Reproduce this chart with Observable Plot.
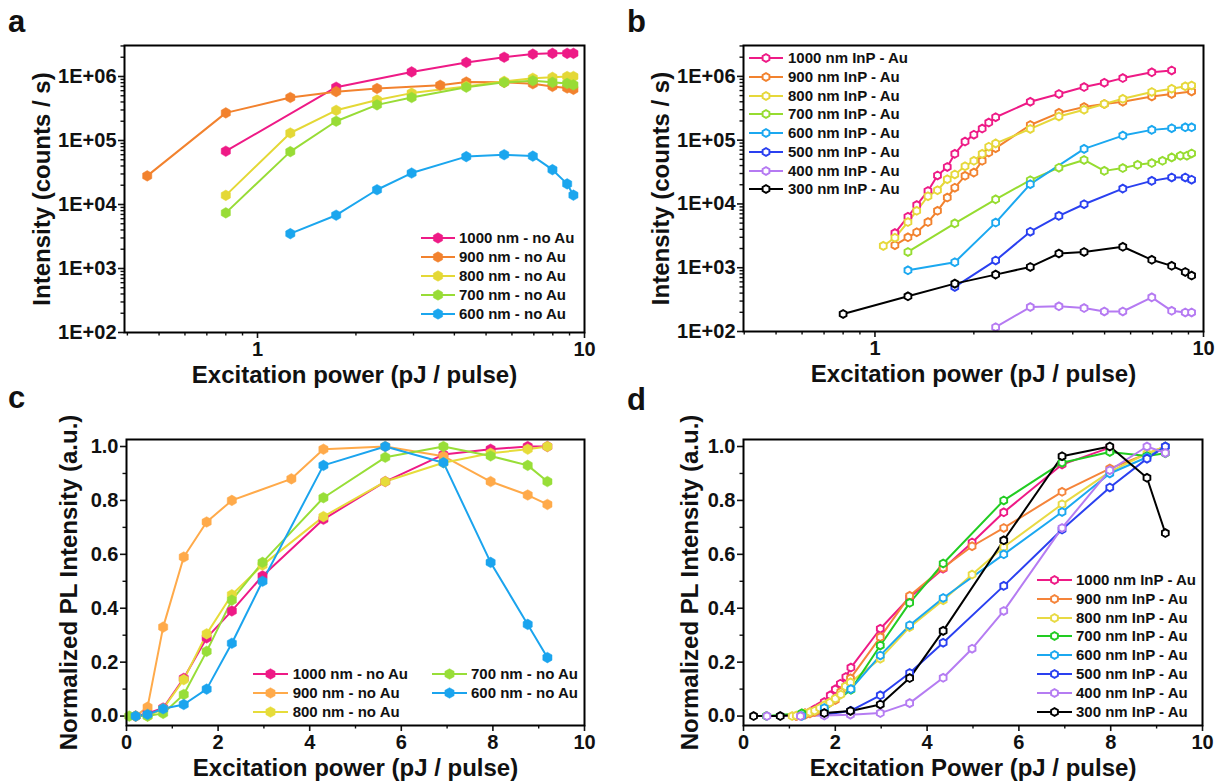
<!DOCTYPE html>
<html><head><meta charset="utf-8">
<script src="https://cdn.jsdelivr.net/npm/d3@7"></script>
<script src="https://cdn.jsdelivr.net/npm/@observablehq/plot@0.6"></script>
<style>
body{margin:0;background:#fff;font-family:"Liberation Sans",Arial,sans-serif;}
#fig{position:relative;width:1215px;height:782px;overflow:hidden;background:#fff;}
.panel{position:absolute;}
.tag{position:absolute;font-weight:bold;font-size:31px;line-height:31px;color:#111;}
.lg{position:absolute;font-weight:bold;font-size:15px;line-height:16px;color:#111;white-space:nowrap;}
.sw{position:absolute;overflow:visible;}
</style></head><body><div id="fig"></div>
<script>
// ---------- Panel a: no Au, log-log ----------
const aNames = ["1000 nm - no Au","900 nm - no Au","800 nm - no Au","700 nm - no Au","600 nm - no Au"];
const aColors = ["#EE1A86","#F2822E","#E4D836","#98DC36","#1BA6EE"];
const a1000x = [0.8,1.74,2.96,4.35,5.68,6.95,7.98,8.85,9.25];
const a1000y = [6.8e4,6.8e5,1.18e6,1.66e6,2.0e6,2.24e6,2.3e6,2.3e6,2.3e6];
const a900x = [0.46,0.8,1.26,1.74,2.32,3.62,4.35,5.68,6.95,7.98,8.85,9.25];
const a900y = [2.8e4,2.7e5,4.7e5,5.8e5,6.5e5,7.3e5,8.2e5,8.1e5,7.7e5,7.0e5,6.6e5,6.3e5];
const a800x = [0.8,1.26,1.74,2.32,2.96,4.35,5.68,6.95,7.98,8.85,9.25];
const a800y = [1.39e4,1.31e5,2.96e5,4.3e5,5.5e5,7.0e5,8.4e5,9.4e5,9.7e5,1.0e6,1.0e6];
const a700x = [0.8,1.26,1.74,2.32,2.96,4.35,5.68,6.95,7.98,8.85,9.25];
const a700y = [7.4e3,6.7e4,2.0e5,3.6e5,4.7e5,6.8e5,8.1e5,8.6e5,8.1e5,7.8e5,7.4e5];
const a600x = [1.26,1.74,2.32,2.96,4.35,5.68,6.95,7.98,8.85,9.25];
const a600y = [3.5e3,6.8e3,1.7e4,3.1e4,5.6e4,6.0e4,5.7e4,3.5e4,2.1e4,1.4e4];

// ---------- Panel b: InP - Au, log-log ----------
const bNames = ["1000 nm InP - Au","900 nm InP - Au","800 nm InP - Au","700 nm InP - Au","600 nm InP - Au","500 nm InP - Au","400 nm InP - Au","300 nm InP - Au"];
const bColors = ["#EE1A86","#F2822E","#E6D83A","#96DC30","#1BA8F0","#2A40F0","#B57AF2","#000000"];
const b1000x = [1.15,1.26,1.34,1.45,1.55,1.66,1.75,1.88,2.0,2.12,2.22,2.33,2.97,3.63,4.33,4.99,5.68,6.96,8.0];
const b1000y = [3.5e3,6.3e3,9.6e3,1.6e4,2.8e4,3.8e4,6.1e4,9.5e4,1.22e5,1.52e5,1.89e5,2.29e5,4.0e5,5.3e5,6.8e5,7.95e5,9.4e5,1.16e6,1.24e6];
const b900x = [1.15,1.26,1.34,1.45,1.55,1.66,1.75,1.88,2.0,2.12,2.22,2.33,2.97,3.63,4.33,4.99,5.68,6.96,8.0,9.2];
const b900y = [2.26e3,3.0e3,3.6e3,5.2e3,7.8e3,1.26e4,1.8e4,2.76e4,3.1e4,4.75e4,6.4e4,7.5e4,1.73e5,2.68e5,3.3e5,3.7e5,4.0e5,4.84e5,5.3e5,5.8e5];
const b800x = [1.06,1.15,1.26,1.34,1.45,1.55,1.66,1.75,1.88,2.0,2.12,2.22,2.33,2.97,3.63,4.33,4.99,5.68,6.96,8.0,8.8,9.2];
const b800y = [2.2e3,2.95e3,5.2e3,7.8e3,1.32e4,1.64e4,2.44e4,2.9e4,3.9e4,4.75e4,6.1e4,7.9e4,8.9e4,1.5e5,2.35e5,3.0e5,3.7e5,4.45e5,5.7e5,6.4e5,7.0e5,7.2e5];
const b700x = [1.26,1.75,2.33,2.97,3.63,4.33,4.99,5.68,6.3,6.96,7.5,8.0,8.5,8.9,9.2];
const b700y = [1.77e3,4.96e3,1.18e4,2.36e4,3.7e4,4.9e4,3.3e4,3.65e4,4.1e4,4.37e4,4.75e4,5.37e4,5.7e4,5.7e4,6.2e4];
const b600x = [1.26,1.75,2.33,2.97,4.33,5.68,6.96,8.0,8.8,9.2];
const b600y = [910,1220,5100,2.04e4,7.3e4,1.18e5,1.45e5,1.54e5,1.59e5,1.59e5];
const b500x = [1.75,2.33,2.97,3.63,4.33,5.68,6.96,8.0,8.8,9.2];
const b500y = [500,1300,3670,6500,9900,1.74e4,2.3e4,2.6e4,2.6e4,2.4e4];
const b400x = [2.33,2.97,3.63,4.33,4.99,5.68,6.96,8.0,8.8,9.2];
const b400y = [117,242,248,233,206,206,343,211,199,199];
const b300x = [0.8,1.26,1.75,2.33,2.97,3.63,4.33,5.68,6.96,8.0,8.8,9.2];
const b300y = [188,356,563,780,1030,1670,1770,2130,1330,1070,860,753];

// ---------- Panel c: no Au, normalized ----------
const cNames = ["1000 nm - no Au","900 nm - no Au","800 nm - no Au","700 nm - no Au","600 nm - no Au"];
const cColors = ["#EE1A86","#FFAA4A","#E6DC3A","#98DE38","#1BA4EE"];
const c1000x = [0.2,0.46,0.8,1.25,1.75,2.3,2.97,4.3,5.65,6.92,7.95,8.76,9.19];
const c1000y = [0,0.01,0.03,0.14,0.29,0.39,0.52,0.73,0.87,0.97,0.99,1.0,1.0];
const c900x = [0.2,0.46,0.8,1.25,1.75,2.3,3.6,4.3,5.65,6.92,7.95,8.76,9.19];
const c900y = [0,0.033,0.33,0.59,0.72,0.80,0.88,0.99,1.0,0.964,0.87,0.82,0.785];
const c800x = [0.2,0.46,0.8,1.25,1.75,2.3,2.97,4.3,5.65,6.92,7.95,8.76,9.19];
const c800y = [0,0,0.027,0.135,0.305,0.45,0.56,0.74,0.87,0.94,0.975,0.99,1.0];
const c700x = [0.06,0.46,0.8,1.25,1.75,2.3,2.97,4.3,5.65,6.92,7.95,8.76,9.19];
const c700y = [0,0,0.01,0.08,0.24,0.43,0.57,0.81,0.96,1.0,0.965,0.93,0.87];
const c600x = [0.2,0.46,0.8,1.25,1.75,2.3,2.97,4.3,5.65,6.92,7.95,8.76,9.19];
const c600y = [0,0.006,0.027,0.043,0.10,0.27,0.50,0.93,1.0,0.94,0.57,0.34,0.217];

// ---------- Panel d: InP - Au, normalized ----------
const dNames = bNames;
const dColors = ["#EE1A86","#F5843A","#E8DA44","#22CC22","#1BA8F0","#2A40F0","#B57CF2","#000000"];
const d1000x = [1.15,1.26,1.34,1.45,1.55,1.66,1.76,1.89,2.0,2.11,2.23,2.34,2.98,3.62,4.35,4.98,5.67,6.94,7.98];
const d1000y = [0,0.005,0.01,0.015,0.025,0.035,0.052,0.077,0.099,0.12,0.145,0.18,0.324,0.44,0.547,0.644,0.756,0.933,0.996];
const d900x = [1.15,1.26,1.34,1.45,1.55,1.66,1.76,1.88,2.0,2.12,2.22,2.33,2.98,3.62,4.35,4.98,5.67,6.94,7.98,9.19];
const d900y = [0,0.002,0.005,0.01,0.015,0.025,0.035,0.05,0.06,0.09,0.11,0.14,0.293,0.446,0.55,0.63,0.698,0.832,0.918,1.0];
const d800x = [1.06,1.15,1.26,1.34,1.45,1.55,1.66,1.76,1.88,2.0,2.12,2.22,2.33,2.98,3.62,4.35,4.98,5.67,6.94,7.98,8.79,9.19];
const d800y = [0,0.002,0.005,0.01,0.015,0.02,0.03,0.04,0.05,0.065,0.08,0.11,0.125,0.213,0.33,0.43,0.525,0.627,0.786,0.906,0.974,1.0];
const d700x = [0.5,1.27,1.76,2.34,2.98,3.62,4.35,5.67,6.94,7.98,8.79,9.19];
const d700y = [0,0.01,0.02,0.098,0.262,0.42,0.566,0.80,0.94,0.98,0.965,0.975];
const d600x = [1.27,1.76,2.34,2.98,3.62,4.35,5.67,6.94,7.98,8.79,9.19];
const d600y = [0,0.03,0.10,0.225,0.337,0.438,0.60,0.757,0.90,0.96,1.0];
const d500x = [1.76,2.34,2.98,3.62,4.35,5.67,6.94,7.98,8.79,9.19];
const d500y = [0.005,0.02,0.077,0.16,0.272,0.483,0.692,0.848,0.955,1.0];
const d400x = [0.51,1.24,1.76,2.33,2.98,3.62,4.35,4.98,5.67,6.94,7.98,8.79,9.19];
const d400y = [0,0,0.002,0.005,0.011,0.048,0.142,0.25,0.39,0.698,0.912,1.0,0.976];
const d300x = [0.22,0.8,1.76,2.33,2.98,3.62,4.35,5.67,6.94,7.98,8.79,9.19];
const d300y = [0,0,0.011,0.019,0.043,0.141,0.316,0.652,0.964,1.0,0.884,0.679];

// ---------- ticks ----------
const logXMajor = [1, 10];
const logXMinor = [0.4,0.5,0.6,0.7,0.8,0.9,2,3,4,5,6,7,8,9];
const logYMajor = [1e2,1e3,1e4,1e5,1e6];
const logYMinor = [2,3,4,5,6].flatMap(e => [2,3,4,5,6,7,8,9].map(m => m*Math.pow(10,e))).filter(v => v < 3.05e6);
const linXMajor = [0,2,4,6,8,10];
const linXMinor = [1,3,5,7,9];
const linYMajor = [0,0.2,0.4,0.6,0.8,1.0];
const linYMinor = [0.1,0.3,0.5,0.7,0.9];

const fig = document.getElementById("fig");

function rows(names, xs, ys) {
  return names.flatMap((n, k) => xs[k].map((x, i) => ({x, y: ys[k][i], name: n})));
}

function makePanel(cfg) {
  const data = rows(cfg.names, cfg.xs, cfg.ys);
  const marks = [
    Plot.axisX({ticks: cfg.xMajor, tickSize: 6, tickPadding: 3, tickFormat: cfg.xFmt, strokeWidth: 1.6, label: null}),
    Plot.axisX({ticks: cfg.xMinor, tickSize: 3.5, tickFormat: () => "", strokeWidth: 1.4, label: null}),
    Plot.axisY({ticks: cfg.yMajor, tickSize: 6, tickPadding: 2, tickFormat: cfg.yFmt, strokeWidth: 1.6, label: null}),
    Plot.axisY({ticks: cfg.yMinor, tickSize: 3.5, tickFormat: () => "", strokeWidth: 1.4, label: null}),
    Plot.line(data, {x: "x", y: "y", z: "name", stroke: "name", strokeWidth: 2}),
    Plot.dot(data, {x: "x", y: "y", stroke: "name", fill: cfg.filled ? "name" : "white",
      symbol: "hexagon", r: cfg.filled ? 4.6 : 3.4, strokeWidth: cfg.filled ? 0.5 : 1.9}),
    Plot.frame({stroke: "black", strokeWidth: 2}),
    Plot.text([cfg.xTitle], {text: d => d, frameAnchor: "bottom", lineAnchor: "middle", textAnchor: "middle", dy: 43, fontSize: 24, fontWeight: "bold"}),
    Plot.text([cfg.yTitle], {text: d => d, frameAnchor: "left", textAnchor: "middle", lineAnchor: "middle", dx: cfg.yTitleDx, rotate: -90, fontSize: 24, fontWeight: "bold"})
  ];
  const svg = Plot.plot({
    width: cfg.width, height: cfg.height,
    marginLeft: cfg.ml, marginRight: cfg.mr, marginTop: cfg.mt, marginBottom: cfg.mb,
    x: {type: cfg.xType, domain: cfg.xDomain},
    y: {type: cfg.yType, domain: cfg.yDomain},
    color: {domain: cfg.names, range: cfg.colors},
    style: {fontFamily: "'Liberation Sans', Arial, sans-serif", fontSize: "20px", fontWeight: "bold", color: "#111", overflow: "visible", background: "transparent"},
    marks
  });
  const wrap = document.createElement("div");
  wrap.className = "panel";
  wrap.style.left = cfg.left + "px";
  wrap.style.top = cfg.top + "px";
  wrap.appendChild(svg);
  fig.appendChild(wrap);
}

function hexPoints(cx, cy, r) {
  const ry = r * Math.sqrt(4/3), hy = ry / 2;
  return [[cx, cy+ry],[cx+r, cy+hy],[cx+r, cy-hy],[cx, cy-ry],[cx-r, cy-hy],[cx-r, cy+hy]].map(p => p.join(",")).join(" ");
}

function legend(names, colors, filled, x0, y0, rowH, lineLen, textX) {
  names.forEach((n, i) => {
    const cy = y0 + i * rowH;
    const svgNS = "http://www.w3.org/2000/svg";
    const s = document.createElementNS(svgNS, "svg");
    s.setAttribute("class", "sw");
    s.setAttribute("width", lineLen); s.setAttribute("height", 16);
    s.style.left = x0 + "px"; s.style.top = (cy - 8) + "px";
    const ln = document.createElementNS(svgNS, "line");
    ln.setAttribute("x1", 0); ln.setAttribute("x2", lineLen); ln.setAttribute("y1", 8); ln.setAttribute("y2", 8);
    ln.setAttribute("stroke", colors[i]); ln.setAttribute("stroke-width", 2);
    s.appendChild(ln);
    const pg = document.createElementNS(svgNS, "polygon");
    pg.setAttribute("points", hexPoints(lineLen/2, 8, filled ? 4.6 : 3.4));
    pg.setAttribute("fill", filled ? colors[i] : "white");
    pg.setAttribute("stroke", colors[i]); pg.setAttribute("stroke-width", filled ? 0.5 : 1.9);
    s.appendChild(pg);
    fig.appendChild(s);
    const t = document.createElement("div");
    t.className = "lg";
    t.textContent = n;
    t.style.left = textX + "px"; t.style.top = (cy - 8) + "px";
    fig.appendChild(t);
  });
}

const fmtLog = d => "1E+" + String(Math.round(Math.log10(d))).padStart(2, "0");
const fmtLin = d3.format(".1f");

makePanel({left: 0, top: 0, width: 610, height: 395, ml: 124, mr: 26, mt: 45, mb: 63,
  names: aNames, colors: aColors, xs: [a1000x,a900x,a800x,a700x,a600x], ys: [a1000y,a900y,a800y,a700y,a600y],
  filled: true, xType: "log", xDomain: [0.392, 10], yType: "log", yDomain: [100, 3.05e6],
  xMajor: logXMajor, xMinor: logXMinor, yMajor: logYMajor, yMinor: logYMinor, xFmt: d3.format("d"), yFmt: fmtLog,
  xTitle: "Excitation power (pJ / pulse)", yTitle: "Intensity (counts / s)", yTitleDx: -82});

makePanel({left: 610, top: 0, width: 605, height: 395, ml: 133, mr: 12, mt: 45, mb: 64,
  names: bNames, colors: bColors, xs: [b1000x,b900x,b800x,b700x,b600x,b500x,b400x,b300x], ys: [b1000y,b900y,b800y,b700y,b600y,b500y,b400y,b300y],
  filled: false, xType: "log", xDomain: [0.398, 10], yType: "log", yDomain: [100, 3.05e6],
  xMajor: logXMajor, xMinor: logXMinor, yMajor: logYMajor, yMinor: logYMinor, xFmt: d3.format("d"), yFmt: fmtLog,
  xTitle: "Excitation power (pJ / pulse)", yTitle: "Intensity (counts / s)", yTitleDx: -82});

makePanel({left: 0, top: 395, width: 610, height: 387, ml: 126, mr: 26, mt: 44, mb: 57,
  names: cNames, colors: cColors, xs: [c1000x,c900x,c800x,c700x,c600x], ys: [c1000y,c900y,c800y,c700y,c600y],
  filled: true, xType: "linear", xDomain: [0, 10], yType: "linear", yDomain: [-0.035, 1.026],
  xMajor: linXMajor, xMinor: linXMinor, yMajor: linYMajor, yMinor: linYMinor, xFmt: d3.format("d"), yFmt: fmtLin,
  xTitle: "Excitation power (pJ / pulse)", yTitle: "Normalized PL Intensity (a.u.)", yTitleDx: -57});

makePanel({left: 610, top: 395, width: 605, height: 387, ml: 133, mr: 13, mt: 44, mb: 57,
  names: dNames, colors: dColors, xs: [d1000x,d900x,d800x,d700x,d600x,d500x,d400x,d300x], ys: [d1000y,d900y,d800y,d700y,d600y,d500y,d400y,d300y],
  filled: false, xType: "linear", xDomain: [0, 10], yType: "linear", yDomain: [-0.035, 1.026],
  xMajor: linXMajor, xMinor: linXMinor, yMajor: linYMajor, yMinor: linYMinor, xFmt: d3.format("d"), yFmt: fmtLin,
  xTitle: "Excitation Power (pJ / pulse)", yTitle: "Normalized PL Intensity (a.u.)", yTitleDx: -53});

// legends
legend(aNames, aColors, true, 421, 238, 19, 34, 459);
legend(bNames, bColors, false, 749, 58.3, 18.7, 34, 788);
legend(cNames.slice(0,3), cColors.slice(0,3), true, 253, 674.3, 18.7, 35, 292.7);
legend(cNames.slice(3), cColors.slice(3), true, 432, 674.3, 18.7, 35, 471);
legend(dNames, dColors, false, 1037, 580, 18.8, 35, 1076);

// panel letters
[["a", 8, 6], ["b", 627, 6], ["c", 8, 382], ["d", 627, 384]].forEach(([t, x, y]) => {
  const el = document.createElement("div");
  el.className = "tag"; el.textContent = t;
  el.style.left = x + "px"; el.style.top = y + "px";
  fig.appendChild(el);
});
</script></body></html>
